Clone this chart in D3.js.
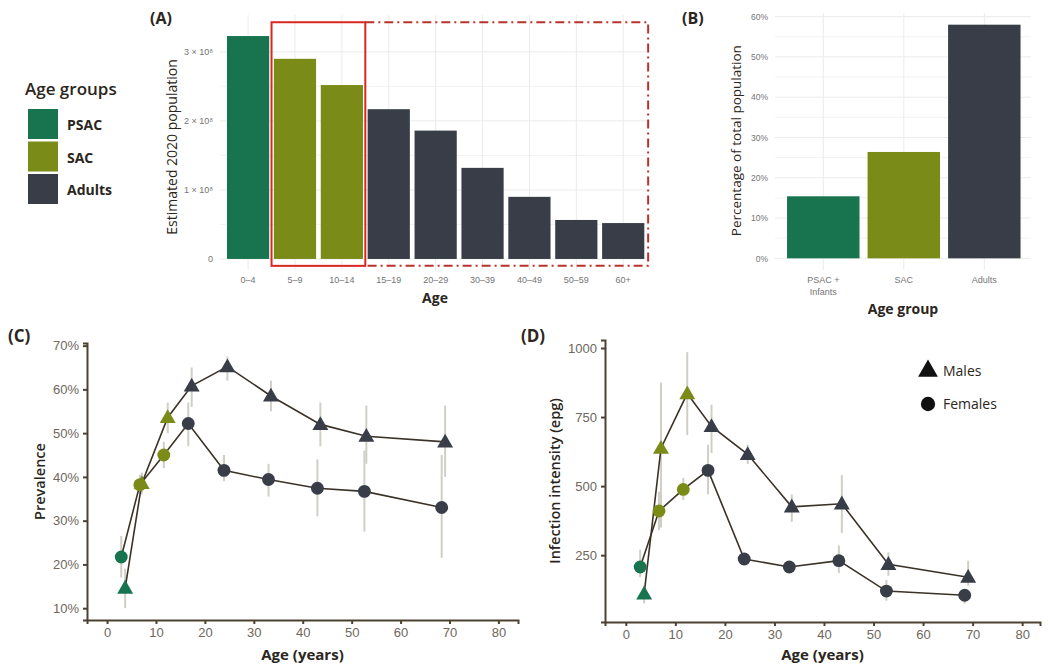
<!DOCTYPE html>
<html>
<head>
<meta charset="utf-8">
<script src="https://cdn.jsdelivr.net/npm/d3@7"></script>
<style>
  body { margin: 0; background: #fff; }
  svg { font-family: "Open Sans", sans-serif; }
  .grid line { stroke: #ebebeb; stroke-width: 1; }
  .grid line.minor { stroke: #f3f3f3; }
  .axA text { fill: #757575; font-size: 9px; }
  .axCD .domain, .axCD line { stroke: #4d4232; stroke-width: 2; }
  .axCD text { fill: #6d675d; font-size: 13px; }
  .ttl { fill: #2b2620; font-weight: 600; }
</style>
</head>
<body>
<div id="chart"></div>
<script>
// panel A: estimated 2020 population by age band
const ageBands = ["0–4", "5–9", "10–14", "15–19", "20–29", "30–39", "40–49", "50–59", "60+"];
const bandPop = [3.23e8, 2.90e8, 2.52e8, 2.17e8, 1.86e8, 1.32e8, 0.90e8, 0.565e8, 0.52e8];
const bandGroup = ["PSAC", "SAC", "SAC", "Adults", "Adults", "Adults", "Adults", "Adults", "Adults"];
const popTicks = [0, 1e8, 2e8, 3e8];

// panel B: share of total population
const groupNames = ["PSAC + Infants", "SAC", "Adults"];
const groupKeys = ["PSAC", "SAC", "Adults"];
const groupShare = [15.4, 26.4, 58.0];

// panels C and D, males
const maleAge = [3.7, 7.1, 12.4, 17.3, 24.6, 33.5, 43.6, 53.0, 69.1];
const maleGroup = ["PSAC", "SAC", "SAC", "Adults", "Adults", "Adults", "Adults", "Adults", "Adults"];
const malePrev = [14.6, 38.5, 53.6, 60.8, 65.2, 58.5, 52.0, 49.3, 48.0];
const malePrevLo = [10, 36, 50, 56, 62, 55, 47, 43, 40];
const malePrevHi = [19, 41, 57, 65, 67.5, 62, 57, 56.3, 56.3];
const maleEpg = [110, 637, 835, 716, 615, 425, 436, 217, 170];
const maleEpgLo = [75, 350, 685, 620, 580, 370, 330, 175, 140];
const maleEpgHi = [140, 875, 985, 795, 650, 470, 540, 260, 230];

// panels C and D, females
const femaleAge = [2.9, 6.7, 11.6, 16.6, 23.9, 33.0, 43.0, 52.6, 68.4];
const femaleGroup = ["PSAC", "SAC", "SAC", "Adults", "Adults", "Adults", "Adults", "Adults", "Adults"];
const femalePrev = [21.7, 38.2, 45.0, 52.2, 41.5, 39.4, 37.4, 36.7, 33.0];
const femalePrevLo = [17, 36, 42, 47, 39, 35.5, 31, 27.5, 21.5];
const femalePrevHi = [26.5, 40.5, 48, 57, 45, 43, 44, 46, 45];
const femaleEpg = [207, 410, 488, 557, 236, 207, 230, 120, 105];
const femaleEpgLo = [170, 340, 450, 470, 215, 190, 185, 85, 75];
const femaleEpgHi = [270, 480, 530, 650, 255, 225, 285, 160, 125];

const colour = d3.scaleOrdinal()
  .domain(["PSAC", "SAC", "Adults"])
  .range(["#18744f", "#7b8b18", "#383d48"]);

const svg = d3.select("#chart").append("svg")
  .attr("width", 1050)
  .attr("height", 672);

// ---------- legend (age groups)
const leg = svg.append("g");
leg.append("text").attr("class", "ttl").attr("x", 25).attr("y", 95)
  .style("font-size", "17px").text("Age groups");
groupKeys.forEach((k, i) => {
  leg.append("rect").attr("x", 28).attr("y", 109 + i * 32.5)
    .attr("width", 30).attr("height", 30).attr("fill", colour(k));
  leg.append("text").attr("class", "ttl").attr("x", 67).attr("y", 130 + i * 32.5)
    .style("font-size", "14px").style("font-weight", 700).text(k);
});

// ---------- panel A
const xA = d3.scaleBand().domain(ageBands).range([222.3, 649]).paddingInner(0.1).paddingOuter(0.1);
const yA = d3.scaleLinear().domain([-0.16e8, 3.39e8]).range([270, 25]);
const gapA = xA.step() - xA.bandwidth();

const gA = svg.append("g");
const gridA = gA.append("g").attr("class", "grid");
[0.5e8, 1.5e8, 2.5e8].forEach((v) => {
  gridA.append("line").attr("class", "minor").attr("x1", 220).attr("x2", 650)
    .attr("y1", yA(v)).attr("y2", yA(v));
});
popTicks.forEach((v) => {
  gridA.append("line").attr("x1", 220).attr("x2", 650).attr("y1", yA(v)).attr("y2", yA(v));
});
ageBands.forEach((b) => {
  const cx = xA(b) + xA.bandwidth() / 2;
  gridA.append("line").attr("x1", cx).attr("x2", cx).attr("y1", yA.range()[1] - 10).attr("y2", yA.range()[0]);
});

gA.selectAll("rect.bar").data(ageBands).join("rect")
  .attr("class", "bar")
  .attr("x", (d) => xA(d))
  .attr("width", xA.bandwidth())
  .attr("y", (d, i) => yA(bandPop[i]))
  .attr("height", (d, i) => yA(0) - yA(bandPop[i]))
  .attr("fill", (d, i) => colour(bandGroup[i]));

gA.append("g").attr("class", "axA")
  .attr("transform", "translate(216,0)")
  .call(d3.axisLeft(yA).tickValues(popTicks).tickSize(0).tickPadding(3)
    .tickFormat((d) => d === 0 ? "0" : `${d / 1e8} × 10⁸`))
  .call((g) => g.select(".domain").remove());

gA.append("g").attr("class", "axA")
  .attr("transform", `translate(0,${yA(-0.16e8) + 4})`)
  .call(d3.axisBottom(xA).tickSize(0).tickPadding(3))
  .call((g) => g.select(".domain").remove());

// highlight boxes
const boxTop = yA(3.43e8), boxBot = yA(-0.1e8);
const sacLeft = xA("5–9") - gapA / 2;
const sacRight = xA("10–14") + xA.bandwidth() + gapA / 2;
const adultRight = xA("60+") + xA.bandwidth() + gapA / 2 + 1.5;
gA.append("path")
  .attr("d", `M${sacRight},${boxTop}H${adultRight}V${boxBot}H${sacRight}`)
  .attr("fill", "none").attr("stroke", "#b8332c").attr("stroke-width", 2)
  .attr("stroke-dasharray", "9,4,2,4");
gA.append("rect")
  .attr("x", sacLeft).attr("y", boxTop)
  .attr("width", sacRight - sacLeft).attr("height", boxBot - boxTop)
  .attr("fill", "none").attr("stroke", "#d8281f").attr("stroke-width", 2);

gA.append("text").attr("class", "ttl")
  .attr("transform", `translate(177,${(yA(0) + yA(3.39e8)) / 2 + 5}) rotate(-90)`)
  .attr("text-anchor", "middle").style("font-size", "14px").style("font-weight", 500)
  .text("Estimated 2020 population");
gA.append("text").attr("class", "ttl").attr("x", 435).attr("y", 303)
  .attr("text-anchor", "middle").style("font-size", "14px").style("font-weight", 700).text("Age");
gA.append("text").attr("class", "ttl").attr("x", 150).attr("y", 24)
  .style("font-size", "16px").style("font-weight", 700).text("(A)");

// ---------- panel B
const xB = d3.scaleBand().domain(groupNames).range([779, 1028.6]).padding(0.1);
const yB = d3.scaleLinear().domain([-2.9, 60.9]).range([270, 13]);
const gB = svg.append("g");
const gridB = gB.append("g").attr("class", "grid");
d3.range(5, 60, 10).forEach((v) => {
  gridB.append("line").attr("class", "minor").attr("x1", 775).attr("x2", 1031)
    .attr("y1", yB(v)).attr("y2", yB(v));
});
d3.range(0, 61, 10).forEach((v) => {
  gridB.append("line").attr("x1", 775).attr("x2", 1031).attr("y1", yB(v)).attr("y2", yB(v));
});
groupNames.forEach((n) => {
  const cx = xB(n) + xB.bandwidth() / 2;
  gridB.append("line").attr("x1", cx).attr("x2", cx).attr("y1", yB.range()[1]).attr("y2", yB.range()[0]);
});
gB.selectAll("rect.bar").data(groupNames).join("rect")
  .attr("class", "bar")
  .attr("x", (d) => xB(d))
  .attr("width", xB.bandwidth())
  .attr("y", (d, i) => yB(groupShare[i]))
  .attr("height", (d, i) => yB(0) - yB(groupShare[i]))
  .attr("fill", (d, i) => colour(groupKeys[i]));

gB.append("g").attr("class", "axA")
  .attr("transform", "translate(772,0)")
  .call(d3.axisLeft(yB).tickValues(d3.range(0, 61, 10)).tickSize(0).tickPadding(4)
    .tickFormat((d) => `${d}%`))
  .call((g) => g.select(".domain").remove())
  .selectAll("text").style("font-size", "8.5px");

const xBax = gB.append("g").attr("class", "axA")
  .attr("transform", `translate(0,${yB.range()[0] + 4})`)
  .call(d3.axisBottom(xB).tickSize(0).tickPadding(3).tickFormat(() => ""))
  .call((g) => g.select(".domain").remove());
xBax.selectAll("text").each(function (d) {
  const parts = d === "PSAC + Infants" ? ["PSAC +", "Infants"] : [d];
  const t = d3.select(this);
  parts.forEach((p, i) => t.append("tspan").attr("x", 0).attr("dy", i === 0 ? "0.71em" : "1.25em").text(p));
});

gB.append("text").attr("class", "ttl")
  .attr("transform", `translate(741,${(yB(0) + yB(60.9)) / 2 + 5}) rotate(-90)`)
  .attr("text-anchor", "middle").style("font-size", "13.5px").style("font-weight", 500)
  .text("Percentage of total population");
gB.append("text").attr("class", "ttl").attr("x", 903).attr("y", 314)
  .attr("text-anchor", "middle").style("font-size", "14px").style("font-weight", 700).text("Age group");
gB.append("text").attr("class", "ttl").attr("x", 682).attr("y", 24)
  .style("font-size", "16px").style("font-weight", 700).text("(B)");

// ---------- panels C and D
function sexPanel({ label, labelX, xRange, xDomain, yRange, yDomain, yTicks, yFmt, yTitle, titleX,
  mVal, mLo, mHi, fVal, fLo, fHi }) {
  const x = d3.scaleLinear().domain(xDomain).range(xRange);
  const y = d3.scaleLinear().domain(yDomain).range(yRange);
  const g = svg.append("g");

  g.append("g").attr("class", "axCD")
    .attr("transform", `translate(0,${yRange[0]})`)
    .call(d3.axisBottom(x).tickValues(d3.range(0, 81, 10)).tickSizeOuter(0).tickSize(4).tickPadding(4));
  g.append("g").attr("class", "axCD")
    .attr("transform", `translate(${xRange[0]},0)`)
    .call(d3.axisLeft(y).tickValues(yTicks).tickSizeOuter(0).tickSize(4).tickPadding(4).tickFormat(yFmt));

  const series = [
    { age: maleAge, grp: maleGroup, v: mVal, lo: mLo, hi: mHi, sym: d3.symbolTriangle, size: 110 },
    { age: femaleAge, grp: femaleGroup, v: fVal, lo: fLo, hi: fHi, sym: d3.symbolCircle, size: 130 }
  ];
  series.forEach((s) => {
    g.append("g").selectAll("line").data(s.age).join("line")
      .attr("x1", (d) => x(d)).attr("x2", (d) => x(d))
      .attr("y1", (d, i) => y(s.lo[i])).attr("y2", (d, i) => y(s.hi[i]))
      .attr("stroke", "#cfcfc6").attr("stroke-width", 2);
  });
  series.forEach((s) => {
    g.append("path")
      .attr("d", d3.line().x((d) => x(d)).y((d, i) => y(s.v[i]))(s.age))
      .attr("fill", "none").attr("stroke", "#3b3227").attr("stroke-width", 1.6);
  });
  series.forEach((s) => {
    g.append("g").selectAll("path").data(s.age).join("path")
      .attr("transform", (d, i) => `translate(${x(d)},${y(s.v[i]) + (s.sym === d3.symbolTriangle ? 1 : 0)})`)
      .attr("d", d3.symbol().type(s.sym).size(s.size))
      .attr("fill", (d, i) => colour(s.grp[i]));
  });

  g.append("text").attr("class", "ttl")
    .attr("transform", `translate(${titleX},${(yRange[0] + yRange[1]) / 2}) rotate(-90)`)
    .attr("text-anchor", "middle").style("font-size", "14.5px").text(yTitle);
  g.append("text").attr("class", "ttl")
    .attr("x", (xRange[0] + xRange[1]) / 2).attr("y", 660)
    .attr("text-anchor", "middle").style("font-size", "15px").style("font-weight", 700).text("Age (years)");
  g.append("text").attr("class", "ttl").attr("x", labelX).attr("y", 342)
    .style("font-size", "17px").style("font-weight", 700).text(label);
}

sexPanel({
  label: "(C)", labelX: 8,
  xRange: [87, 518], xDomain: [-4.1, 84],
  yRange: [620, 343], yDomain: [7.3, 70.6],
  yTicks: d3.range(10, 71, 10), yFmt: (d) => `${d}%`,
  yTitle: "Prevalence", titleX: 45,
  mVal: malePrev, mLo: malePrevLo, mHi: malePrevHi,
  fVal: femalePrev, fLo: femalePrevLo, fHi: femalePrevHi
});

sexPanel({
  label: "(D)", labelX: 521,
  xRange: [605, 1040], xDomain: [-4.2, 83.6],
  yRange: [622, 340], yDomain: [8, 1029],
  yTicks: [250, 500, 750, 1000], yFmt: (d) => `${d}`,
  yTitle: "Infection intensity (epg)", titleX: 560,
  mVal: maleEpg, mLo: maleEpgLo, mHi: maleEpgHi,
  fVal: femaleEpg, fLo: femaleEpgLo, fHi: femaleEpgHi
});

// legend (sex)
const sexLeg = svg.append("g");
[["Males", d3.symbolTriangle, 170], ["Females", d3.symbolCircle, 160]].forEach(([name, sym, size], i) => {
  sexLeg.append("path")
    .attr("transform", `translate(928,${371 + i * 33})`)
    .attr("d", d3.symbol().type(sym).size(size)).attr("fill", "#111");
  sexLeg.append("text").attr("class", "ttl").attr("x", 943).attr("y", 376 + i * 33)
    .style("font-size", "14px").style("font-weight", 500).text(name);
});
</script>
</body>
</html>
